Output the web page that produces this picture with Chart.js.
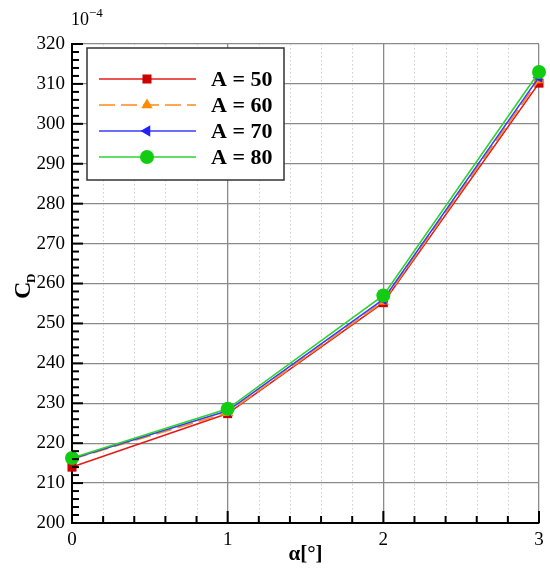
<!DOCTYPE html>
<html lang="en">
<head>
    <meta charset="UTF-8">
    <title>Drag coefficient vs angle of attack</title>
    <script src="https://cdn.jsdelivr.net/npm/chart.js"></script>
    <style>
        html, body { margin: 0; padding: 0; background: #fff; }
        #wrap { width: 550px; height: 573px; }
    </style>
</head>
<body>
    <div id="wrap"><canvas id="chart" width="550" height="573"></canvas></div>
    <script>
        // angle of attack (deg) and C_D values (x 10^-4)
        const alpha = [0, 1, 2, 3];
        const cdA50 = [214.0, 227.4, 255.2, 310.2];
        const cdA60 = [216.0, 227.6, 255.5, 311.0];
        const cdA70 = [216.1, 228.1, 256.0, 311.7];
        const cdA80 = [216.3, 228.6, 257.0, 313.0];
        const seriesNames = ['A = 50', 'A = 60', 'A = 70', 'A = 80'];
        const yTicks = [200, 210, 220, 230, 240, 250, 260, 270, 280, 290, 300, 310, 320];

        const serif = "'Liberation Serif', 'Times New Roman', serif";

        function toPoints(ys) {
            return alpha.map((a, i) => ({ x: a, y: ys[i] }));
        }

        const styles = [
            { line: '#e31b1b', point: '#cc0000', shape: 'rect', radius: 6.4, rot: 0, dash: [] },
            { line: '#ff8a1a', point: '#ff8a00', shape: 'triangle', radius: 6.5, rot: 0, dash: [16, 6] },
            { line: '#3b3bff', point: '#2222ff', shape: 'triangle', radius: 6.5, rot: -90, dash: [] },
            { line: '#2ed32e', point: '#11cc11', shape: 'circle', radius: 7, rot: 0, dash: [] }
        ];

        const datasets = [cdA50, cdA60, cdA70, cdA80].map((ys, i) => ({
            label: seriesNames[i],
            data: toPoints(ys),
            order: 3 - i,
            borderColor: styles[i].line,
            backgroundColor: styles[i].point,
            borderWidth: 1.6,
            borderDash: styles[i].dash,
            pointStyle: styles[i].shape,
            pointRotation: styles[i].rot,
            pointRadius: styles[i].radius,
            pointBorderWidth: 0,
            pointBackgroundColor: styles[i].point,
            tension: 0,
            clip: false
        }));

        const decor = {
            id: 'decor',
            beforeDatasetsDraw(chart) {
                const { ctx, chartArea: a, scales: { x } } = chart;
                ctx.save();
                ctx.strokeStyle = '#cfcfcf';
                ctx.lineWidth = 1;
                ctx.setLineDash([1.5, 2.5]);
                for (let v = 0.2; v < 3; v += 0.2) {
                    if (Math.abs(v - Math.round(v)) < 0.01) continue;
                    const px = Math.round(x.getPixelForValue(v)) + 0.5;
                    ctx.beginPath();
                    ctx.moveTo(px, a.top);
                    ctx.lineTo(px, a.bottom);
                    ctx.stroke();
                }
                ctx.restore();
            },
            afterDraw(chart) {
                const { ctx, chartArea: a, scales: { x, y } } = chart;
                ctx.save();
                ctx.strokeStyle = '#000';
                ctx.lineWidth = 2;
                // inward ticks on the left axis
                for (let v = 200; v <= 320; v += 2) {
                    const py = y.getPixelForValue(v);
                    const len = v % 10 === 0 ? 11 : 7;
                    ctx.beginPath();
                    ctx.moveTo(a.left, py);
                    ctx.lineTo(a.left + len, py);
                    ctx.stroke();
                }
                // inward ticks on the bottom axis
                for (let i = 0; i <= 15; i++) {
                    const v = i * 0.2;
                    const px = x.getPixelForValue(v);
                    const len = i % 5 === 0 ? 12 : 7;
                    ctx.beginPath();
                    ctx.moveTo(px, a.bottom);
                    ctx.lineTo(px, a.bottom - len);
                    ctx.stroke();
                }

                // exponent above the axis
                ctx.fillStyle = '#000';
                ctx.textBaseline = 'alphabetic';
                ctx.textAlign = 'left';
                ctx.font = '18px ' + serif;
                ctx.fillText('10', 71, 25);
                ctx.font = '13px ' + serif;
                ctx.fillText('\u22124', 89, 17);

                // x title
                ctx.textAlign = 'center';
                ctx.font = 'bold 21px ' + serif;
                ctx.fillText('\u03b1[\u00b0]', (a.left + a.right) / 2, 560);

                // y title C_D
                ctx.save();
                ctx.translate(30, 288);
                ctx.rotate(-Math.PI / 2);
                ctx.textAlign = 'left';
                ctx.font = 'bold 24px ' + serif;
                ctx.fillText('C', -11, 0);
                ctx.font = 'bold 13px ' + serif;
                ctx.fillText('D', 5, 5);
                ctx.restore();

                // legend
                const bx = 87, by = 48, bw = 197, bh = 132;
                ctx.fillStyle = '#fff';
                ctx.fillRect(bx, by, bw, bh);
                ctx.strokeStyle = '#333';
                ctx.lineWidth = 1.5;
                ctx.strokeRect(bx, by, bw, bh);
                chart.data.datasets.forEach((ds, i) => {
                    const ry = 79 + i * 26;
                    ctx.save();
                    ctx.strokeStyle = ds.borderColor;
                    ctx.lineWidth = 1.6;
                    ctx.setLineDash(ds.borderDash);
                    ctx.beginPath();
                    ctx.moveTo(99, ry);
                    ctx.lineTo(196, ry);
                    ctx.stroke();
                    ctx.restore();
                    ctx.fillStyle = ds.pointBackgroundColor;
                    Chart.helpers.drawPoint(ctx, {
                        pointStyle: ds.pointStyle,
                        rotation: ds.pointRotation,
                        radius: ds.pointRadius,
                        borderWidth: 0
                    }, 147, ry);
                    ctx.fillStyle = '#000';
                    ctx.textAlign = 'left';
                    ctx.textBaseline = 'middle';
                    ctx.font = 'bold 22px ' + serif;
                    ctx.fillText(ds.label, 211, ry + 1);
                });
                ctx.restore();
            }
        };

        new Chart(document.getElementById('chart'), {
            type: 'line',
            data: { datasets },
            options: {
                responsive: false,
                animation: false,
                layout: { padding: { top: 44, right: 11, left: 0, bottom: 0 } },
                plugins: {
                    legend: { display: false },
                    tooltip: { enabled: false }
                },
                scales: {
                    x: {
                        type: 'linear',
                        min: 0,
                        max: 3,
                        afterFit: s => { s.height = 50; },
                        ticks: {
                            stepSize: 1,
                            color: '#000',
                            padding: 6,
                            font: { family: serif, size: 19 },
                            callback: v => String(v)
                        },
                        grid: { color: '#8a8a8a', lineWidth: 1.3, drawTicks: false },
                        border: { color: '#000', width: 2 }
                    },
                    y: {
                        type: 'linear',
                        min: 200,
                        max: 320,
                        afterFit: s => { s.width = 72; },
                        afterBuildTicks: s => { s.ticks = yTicks.map(v => ({ value: v })); },
                        ticks: {
                            color: '#000',
                            padding: 7,
                            font: { family: serif, size: 19 }
                        },
                        grid: { color: '#8a8a8a', lineWidth: 1.3, drawTicks: false },
                        border: { color: '#000', width: 2 }
                    }
                }
            },
            plugins: [decor]
        });
    </script>
</body>
</html>
